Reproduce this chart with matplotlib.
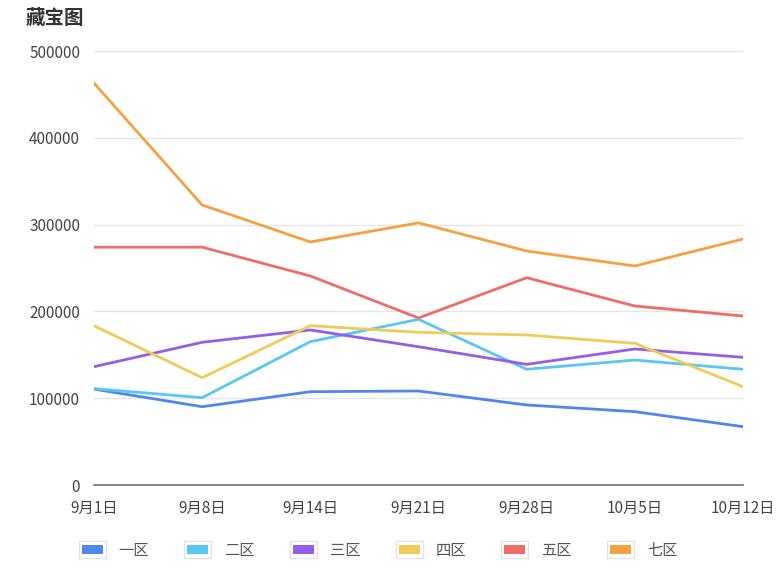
import matplotlib
matplotlib.use('Agg')
import matplotlib.pyplot as plt
from matplotlib.patches import Rectangle, Patch
from matplotlib.legend_handler import HandlerBase

plt.rcParams['font.family'] = ['Noto Sans CJK SC', 'DejaVu Sans']

# 数据
dates = ['9月1日', '9月8日', '9月14日', '9月21日', '9月28日', '10月5日', '10月12日']
names = ['一区', '二区', '三区', '四区', '五区', '七区']
zone1 = [110500, 90200, 107500, 108300, 92200, 84500, 67200]
zone2 = [111000, 100600, 165100, 190900, 133300, 144000, 133300]
zone3 = [136300, 164400, 178600, 159300, 139000, 156700, 147100]
zone4 = [183500, 123600, 183500, 175900, 172800, 163200, 113300]
zone5 = [274000, 274000, 240800, 192400, 238800, 206200, 194700]
zone7 = [463000, 322600, 280000, 302000, 269600, 252300, 283400]
yticks = [0, 100000, 200000, 300000, 400000, 500000]

series = [zone1, zone2, zone3, zone4, zone5, zone7]
colors = ['#5087ec', '#58c7f1', '#945ee8', '#f1cb58', '#ee6d69', '#f4a142']


class BoxHandler(HandlerBase):
  # 图例: 灰色外框 + 彩色内块
  def create_artists(self, legend, orig_handle, xdescent, ydescent, width, height, fontsize, trans):
    outer = Rectangle((-xdescent, -ydescent), width, height, facecolor='white',
                      edgecolor='#e4e4e4', linewidth=1.0, transform=trans)
    pad_x = width * 0.11
    pad_y = height * 0.24
    inner = Rectangle((-xdescent + pad_x, -ydescent + pad_y), width - 2 * pad_x, height - 2 * pad_y,
                      facecolor=orig_handle.get_facecolor(), edgecolor='none', transform=trans)
    return [outer, inner]


fig = plt.figure(figsize=(7.77, 5.76), dpi=100)
ax = fig.add_axes([94 / 777, 1 - 485 / 576, (743 - 94) / 777, (485 - 51) / 576])

x = list(range(len(dates)))
for vals, c in zip(series, colors):
  ax.plot(x, vals, color=c, linewidth=2, solid_joinstyle='miter')

ax.set_xlim(0, len(dates) - 1)
ax.set_ylim(0, 500000)
ax.set_yticks(yticks)
ax.set_yticklabels([str(v) for v in yticks])
ax.set_xticks(x)
ax.set_xticklabels(dates)
ax.grid(axis='y', color='#e6e6e6', linewidth=1)
ax.set_axisbelow(True)

for s in ('top', 'right', 'left'):
  ax.spines[s].set_visible(False)
ax.spines['bottom'].set_color('#6e7079')
ax.spines['bottom'].set_linewidth(1.2)
ax.tick_params(axis='both', length=0, labelsize=11, colors='#6e7079', labelcolor='#454545')
ax.tick_params(axis='y', pad=10)
ax.tick_params(axis='x', pad=11)

fig.text(26 / 777, 1 - 18 / 576, '藏宝图', fontsize=14, fontweight='bold', color='#333333',
         ha='left', va='center')

handles = [Patch(facecolor=c) for c in colors]
leg = fig.legend(handles, names, loc='center', bbox_to_anchor=(378 / 777, 1 - 550 / 576), ncol=6,
                 frameon=False, fontsize=11, handlelength=1.77, handleheight=1.35,
                 handletextpad=0.85, columnspacing=2.3,
                 handler_map={Patch: BoxHandler()})
for t in leg.get_texts():
  t.set_color('#555555')

fig.savefig('out.png', dpi=100)
